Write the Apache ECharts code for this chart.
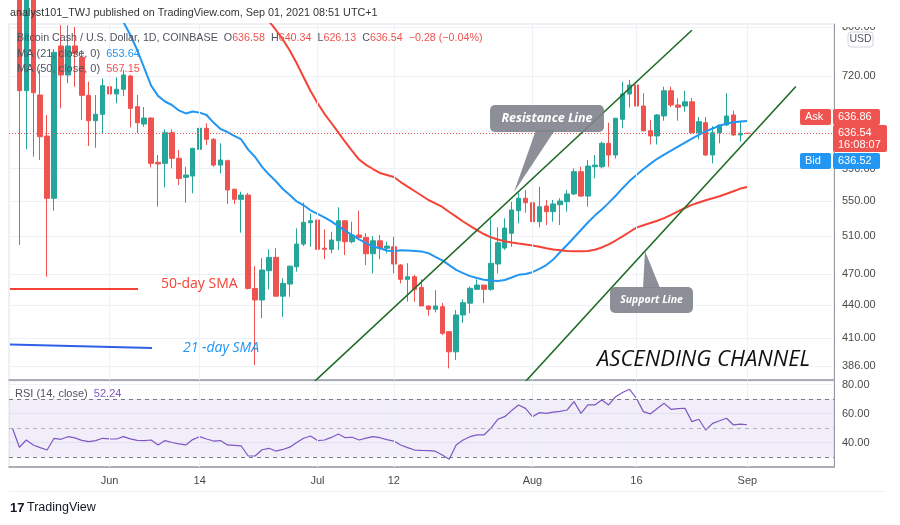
<!DOCTYPE html>
<html><head><meta charset="utf-8">
<script src="https://cdn.jsdelivr.net/npm/echarts@6/dist/echarts.min.js"></script>
<style>html,body{margin:0;padding:0;background:#fff}#c{width:900px;height:525px}</style>
</head><body><div id="c"></div>
<script>
// ---------- categories (daily, May 18 .. Sep 13, 2021) ----------
const firstDay = Date.UTC(2021, 4, 18);
const dayCount = 119;
const dates = [];
for (let i = 0; i < dayCount; i++) dates.push(new Date(firstDay + i * 86400000).toISOString().slice(0, 10));

// time-axis tick labels
const tickDates  = ['2021-06-01','2021-06-14','2021-07-01','2021-07-12','2021-08-01','2021-08-16','2021-09-01'];
const tickTexts  = ['Jun','14','Jul','12','Aug','16','Sep'];

// price axis ticks (log scale) and RSI ticks
const priceTicks = [386, 410, 440, 470, 510, 550, 590, 640, 720, 800];
const rsiTicks = [40, 60, 80];

// ---------- daily candles [open, high, low, close] ----------
const ohlc = [
  null,
  [1010,1040,500.6,697.6],[697.6,880,615.0,850],[850,880,605.3,694.5],[691.2,729.4,601.0,631.9],
  [632.8,662.1,467.6,553.5],[553.5,762.5,539.0,757.6],[768.0,803.4,671.6,721.6],[721.6,803.0,708.8,768.0],
  [768.0,800,703.6,756.0],[749.5,761,655.0,690.7],[690.7,711.3,619.4,654.0],[654.0,691.2,617.1,663.1],
  [663.1,716.4,636.6,705.2],[703.6,708.8,670.3,692.7],[692.7,717.9,679.0,699.8],[699.8,729.4,689.7,721.6],
  [720.0,722.0,644.7,671.6],[674.0,691.2,636.6,651.2],[649.4,673.5,645.6,657.8],[657.8,658.5,591.6,596.7],
  [598.0,607.5,543.6,596.0],[596.7,642.1,566.7,637.4],[637.4,642.0,590.3,603.2],[603.2,614.1,569.5,577.7],
  [579.0,592.3,548.3,581.9],[580.6,617.0,559.5,616.3],[615.0,650.3,601.0,643.4],[643.4,650.3,620.8,628.4],
  [628.4,630.0,592.3,594.5],[594.5,623.0,584.0,601.0],[600.1,601.5,546.8,563.5],[564.4,565.0,546.8,552.3],
  [552.3,561.4,514.0,557.4],[557.4,560.0,455.0,456.0],[456.0,478.4,386.7,444.8],[444.8,486.8,427.8,474.4],
  [473.7,496.0,455.0,487.5],[487.5,497.2,448.0,448.5],[448.5,466.0,429.0,461.0],[460.3,479.0,447.9,478.4],
  [477.8,518.9,472.7,501.6],[501.6,548.3,499.5,525.7],[525.2,535.9,498.7,527.4],[528.3,528.5,485.5,496.0],
  [497.2,517.8,485.5,496.0],[496.0,515.1,491.8,506.0],[505.2,542.9,495.3,527.4],[527.4,528.3,490.0,504.2],
  [504.2,526.4,502.4,511.5],[511.5,539.0,506.0,508.9],[508.9,513.4,479.5,491.3],[491.3,510.4,471.0,505.2],
  [505.2,511.5,485.5,497.2],[497.2,504.2,491.8,499.5],[498.7,509.6,471.0,480.6],[479.5,480.6,461.0,465.0],
  [465.0,481.4,443.2,467.6],[467.6,469.4,443.2,455.1],[457.0,465.0,439.0,439.1],[439.1,439.5,430.0,436.0],
  [436.0,454.4,433.0,439.1],[438.5,442.0,412.5,414.0],[415.5,416.0,384.0,397.9],[397.9,435.3,390.9,430.7],
  [430.7,445.5,423.5,442.2],[441.8,457.8,432.3,456.1],[455.1,465.0,454.4,459.3],[459.3,459.5,441.8,455.1],
  [455.1,529.1,453.7,481.3],[480.6,520.0,471.0,503.1],[497.4,530.2,495.3,519.2],[513.4,549.5,498.7,539.8],
  [539.0,559.6,524.6,553.6],[553.6,563.5,536.7,548.3],[548.3,563.5,513.4,526.4],[526.4,567.5,520.0,543.6],
  [544.4,551.5,522.6,537.8],[537.8,551.5,526.4,546.8],[546.0,553.6,522.6,550.3],[549.5,563.5,537.8,558.7],
  [558.7,590.3,557.4,586.1],[586.1,592.3,555.4,556.2],[556.2,601.0,543.6,593.3],[592.3,607.5,577.7,594.5],
  [592.3,625.2,590.3,623.0],[623.0,651.2,592.3,607.5],[607.5,658.0,603.0,657.4],[656.0,711.3,643.5,692.7],
  [692.7,713.9,672.9,706.2],[706.2,716.0,673.0,675.0],[675.0,693.8,639.0,640.1],[640.1,655.0,621.4,632.9],
  [632.9,663.5,621.4,662.1],[660.7,703.6,654.0,697.6],[697.6,703.6,673.5,676.5],[676.5,686.2,654.0,673.3],
  [675.0,697.6,666.8,681.1],[681.1,686.7,636.6,637.4],[637.4,659.3,628.4,652.6],[651.2,659.3,606.0,607.5],
  [607.5,646.3,596.7,637.4],[637.4,648.5,623.0,648.0],[648.0,693.8,646.6,660.7],[662.1,668.3,633.0,634.3],
  [634.3,652.6,625.2,636.6],[636.58,640.34,626.13,636.54]
];

// ---------- moving averages ----------
const ma21 = [null,null,null,null,null,null,null,null,null,null,null,null,null,null,null,null,
  808.7,786.4,761.4,732.6,705.2,689.9,681.6,676.5,668.6,664.3,667.2,665.5,662.1,651.4,642.6,638.3,
  632.9,628.2,614.6,604.9,592.3,582.5,574.2,564.7,557.4,549.8,545.3,539.4,535.3,531.3,526.8,521.4,
  516.0,511.5,506.7,502.6,499.0,497.1,494.7,493.9,495.1,494.8,494.3,493.8,491.9,488.1,484.4,479.5,
  474.6,471.3,468.2,466.3,464.6,463.8,463.3,464.3,466.8,469.5,470.3,472.2,475.5,479.5,485.2,493.2,
  500.6,508.8,517.0,525.5,533.3,540.4,548.1,556.5,565.7,574.4,581.9,589.3,596.1,602.6,608.1,613.2,
  618.6,623.9,629.3,634.3,639.1,643.2,647.0,650.0,652.0,653.0,653.64];
const ma50 = [null,null,null,null,null,null,null,null,null,null,null,null,null,null,null,null,
  null,null,null,null,null,null,null,null,null,null,null,null,null,null,null,null,null,null,null,null,null,
  810,794.9,778.8,760.6,739.9,718.0,697.2,679.4,663.8,650.8,637.7,624.8,612.8,601.6,594.8,589.5,
  584.5,582.0,579.5,573.2,567.7,562.3,556.9,551.5,547.4,543.3,537.5,532.2,526.6,521.6,517.0,512.6,
  509.0,506.6,504.6,503.3,502.2,501.2,500.1,498.7,497.2,495.8,495.0,494.2,494.0,494.0,494.2,495.6,
  498.0,501.4,505.5,510.0,514.8,519.7,522.4,524.9,527.5,530.4,534.2,538.1,542.1,545.7,548.6,551.2,
  553.5,555.9,558.9,562.0,565.2,567.15];

// ---------- RSI (14) ----------
const rsi = [49.8,36.7,41.7,38.3,36.5,34.8,42.9,42.2,44.0,43.2,41.5,40.6,41.3,42.9,42.5,42.4,
  44.0,42.5,41.5,41.3,41.7,38.3,41.3,40.0,39.0,38.3,42.0,44.0,42.4,41.0,41.3,38.3,38.0,37.6,30.7,30.7,
  35.0,36.0,34.1,35.2,36.8,40.0,42.9,44.5,41.3,41.7,43.5,45.9,43.3,43.6,41.7,43.0,44.0,43.3,42.0,41.0,
  38.3,36.5,34.8,34.5,34.4,34.0,31.4,28.4,38.3,41.7,44.0,45.2,45.2,49.8,56.0,57.8,62.0,65.9,63.5,57.8,
  60.6,60.1,61.0,61.5,62.4,68.2,60.1,65.9,65.9,69.3,65.9,71.6,74.5,76.7,70.5,61.3,59.7,63.5,67.0,62.9,
  63.3,63.6,54.4,56.0,48.6,53.2,55.0,56.7,52.1,52.6,52.24];

// ---------- channel trend lines [date, price] ----------
const resistanceLine = [['2021-06-30', 370.4], ['2021-08-24', 794.5]];
const supportLine = [['2021-07-31', 373.3], ['2021-09-08', 703.9]];
const lastPrice = 636.54;

const FF = 'Liberation Sans';
const tickMap = {};
tickDates.forEach((d, k) => tickMap[d] = tickTexts[k]);
const candleData = ohlc.map(r => r ? [r[0], r[3], r[2], r[1]] : ['-','-','-','-']);
const vLines = tickDates.map(d => ({ xAxis: d }));
const gridLineStyle = { color: '#eef1f6', width: 1, type: 'solid' };

const option = {
  animation: false,
  backgroundColor: '#fff',
  grid: [
    { left: 9, right: 66, top: 24, height: 356, show: true, borderColor: '#e0e3eb', borderWidth: 1 },
    { left: 9, right: 66, top: 381, height: 86, show: true, borderColor: '#e0e3eb', borderWidth: 1 }
  ],
  xAxis: [
    { type: 'category', gridIndex: 0, data: dates, boundaryGap: true,
      axisLabel: { show: false }, axisTick: { show: false },
      axisLine: { show: true, lineStyle: { color: '#9598a1', width: 1.5 } }, splitLine: { show: false } },
    { type: 'category', gridIndex: 1, data: dates, boundaryGap: true,
      axisLabel: { interval: (i, v) => tickMap[v] !== undefined, formatter: v => tickMap[v] || '',
        color: '#4a4a4a', fontSize: 11, fontFamily: FF, margin: 8 },
      axisTick: { show: false }, axisLine: { show: true, lineStyle: { color: '#9598a1', width: 1.5 } },
      splitLine: { show: false } }
  ],
  yAxis: [
    { type: 'log', gridIndex: 0, position: 'right', min: 374.5, max: 805.2,
      axisLine: { show: true, lineStyle: { color: '#9598a1' } },
      axisTick: { show: false, customValues: priceTicks },
      axisLabel: { customValues: priceTicks, formatter: v => Number(v).toFixed(2),
        color: '#4a4a4a', fontSize: 11, fontFamily: FF, margin: 8 },
      splitLine: { show: true, lineStyle: gridLineStyle } },
    { type: 'value', gridIndex: 1, position: 'right', min: 23.1, max: 82.4,
      axisLine: { show: true, lineStyle: { color: '#9598a1' } },
      axisTick: { show: false, customValues: rsiTicks },
      axisLabel: { customValues: rsiTicks, formatter: v => Number(v).toFixed(2),
        color: '#4a4a4a', fontSize: 11, fontFamily: FF, margin: 8 },
      splitLine: { show: true, lineStyle: gridLineStyle } }
  ],
  series: [
    { type: 'line', xAxisIndex: 0, yAxisIndex: 0, data: [], z: 1, silent: true,
      markLine: { silent: true, symbol: 'none', label: { show: false },
        data: vLines.concat([{ yAxis: lastPrice, lineStyle: { color: '#ef5350', type: [1, 2], width: 1 } }]),
        lineStyle: gridLineStyle } },
    { type: 'candlestick', xAxisIndex: 0, yAxisIndex: 0, data: candleData, barWidth: 5, z: 3,
      itemStyle: { color: '#26a69a', color0: '#ef5350', borderColor: '#26a69a', borderColor0: '#ef5350', borderWidth: 1 } },
    { type: 'line', xAxisIndex: 0, yAxisIndex: 0, data: ma21, showSymbol: false, z: 4,
      lineStyle: { color: '#2196f3', width: 2 } },
    { type: 'line', xAxisIndex: 0, yAxisIndex: 0, data: ma50, showSymbol: false, z: 4,
      lineStyle: { color: '#f44336', width: 2 } },
    { type: 'line', xAxisIndex: 0, yAxisIndex: 0, data: resistanceLine, showSymbol: false, z: 5,
      lineStyle: { color: '#1e6b25', width: 1.6 } },
    { type: 'line', xAxisIndex: 0, yAxisIndex: 0, data: supportLine, showSymbol: false, z: 5,
      lineStyle: { color: '#1e6b25', width: 1.6 } },
    { type: 'line', xAxisIndex: 1, yAxisIndex: 1, data: [], z: 1, silent: true,
      markLine: { silent: true, symbol: 'none', label: { show: false }, data: vLines, lineStyle: gridLineStyle } },
    { type: 'line', xAxisIndex: 1, yAxisIndex: 1, data: rsi, showSymbol: false, z: 4,
      lineStyle: { color: '#7e57c2', width: 1.2 },
      markArea: { silent: true, itemStyle: { color: 'rgba(126,87,194,0.1)' }, data: [[{ yAxis: 30 }, { yAxis: 70 }]] },
      markLine: { silent: true, symbol: 'none', label: { show: false },
        lineStyle: { color: '#787b86', type: [4, 4], width: 1 },
        data: [{ yAxis: 30 }, { yAxis: 50, lineStyle: { color: '#b0b3bb', type: [4, 4] } }, { yAxis: 70 }] } }
  ],
  graphic: [
    { type: 'rect', z: 90, shape: { x: 835, y: 0, width: 65, height: 27 }, style: { fill: '#fff' } },
    { type: 'text', z: 100, x: 10, y: 13, style: { text: 'analyst101_TWJ published on TradingView.com, Sep 01, 2021 08:51 UTC+1',
      fontSize: 10.8, fontFamily: FF, fill: '#333', verticalAlign: 'middle' } },
    { type: 'text', z: 100, x: 17, y: 38, style: { verticalAlign: 'middle', fontSize: 11, fontFamily: FF,
      text: '{g|Bitcoin Cash / U.S. Dollar, 1D, COINBASE}  {g|O}{r|636.58}  {g|H}{r|640.34}  {g|L}{r|626.13}  {g|C}{r|636.54}  {r|\u22120.28 (\u22120.04%)}',
      rich: { g: { fill: '#50535e', fontSize: 10.7, fontFamily: FF }, r: { fill: '#ef5350', fontSize: 10.7, fontFamily: FF } } } },
    { type: 'text', z: 100, x: 17, y: 54, style: { verticalAlign: 'middle', fontSize: 11, fontFamily: FF,
      text: '{g|MA (21, close, 0)}  {b|653.64}',
      rich: { g: { fill: '#50535e', fontSize: 11, fontFamily: FF }, b: { fill: '#2196f3', fontSize: 11, fontFamily: FF } } } },
    { type: 'text', z: 100, x: 17, y: 69, style: { verticalAlign: 'middle', fontSize: 11, fontFamily: FF,
      text: '{g|MA (50, close, 0)}  {r|567.15}',
      rich: { g: { fill: '#50535e', fontSize: 11, fontFamily: FF }, r: { fill: '#ef5350', fontSize: 11, fontFamily: FF } } } },
    { type: 'text', z: 100, x: 15, y: 394, style: { verticalAlign: 'middle', fontSize: 11, fontFamily: FF,
      text: '{g|RSI (14, close)}  {p|52.24}',
      rich: { g: { fill: '#50535e', fontSize: 11, fontFamily: FF }, p: { fill: '#7e57c2', fontSize: 11, fontFamily: FF } } } },
    // USD box
    { type: 'rect', z: 100, shape: { x: 848, y: 32, width: 25, height: 15, r: 3 }, style: { fill: '#fff', stroke: '#d1d4dc', lineWidth: 1 } },
    { type: 'text', z: 101, x: 860.5, y: 39.5, style: { text: 'USD', fontSize: 10.5, fontFamily: FF, fill: '#50535e', align: 'center', verticalAlign: 'middle' } },
    // Ask / price / Bid tags
    { type: 'rect', z: 100, shape: { x: 800, y: 109, width: 31, height: 16, r: 2 }, style: { fill: '#ef5350' } },
    { type: 'text', z: 101, x: 805, y: 117, style: { text: 'Ask', fontSize: 11, fontFamily: FF, fill: '#fff', verticalAlign: 'middle' } },
    { type: 'rect', z: 100, shape: { x: 833, y: 109, width: 47, height: 16, r: 2 }, style: { fill: '#ef5350' } },
    { type: 'text', z: 101, x: 838, y: 117, style: { text: '636.86', fontSize: 11, fontFamily: FF, fill: '#fff', verticalAlign: 'middle' } },
    { type: 'rect', z: 100, shape: { x: 833, y: 125, width: 54, height: 27, r: 2 }, style: { fill: '#ef5350' } },
    { type: 'text', z: 101, x: 838, y: 132.5, style: { text: '636.54', fontSize: 11, fontFamily: FF, fill: '#fff', verticalAlign: 'middle' } },
    { type: 'text', z: 101, x: 838, y: 145, style: { text: '16:08:07', fontSize: 11, fontFamily: FF, fill: '#fff', verticalAlign: 'middle' } },
    { type: 'rect', z: 100, shape: { x: 800, y: 153, width: 31, height: 16, r: 2 }, style: { fill: '#2196f3' } },
    { type: 'text', z: 101, x: 805, y: 161, style: { text: 'Bid', fontSize: 11, fontFamily: FF, fill: '#fff', verticalAlign: 'middle' } },
    { type: 'rect', z: 100, shape: { x: 833, y: 153, width: 47, height: 16, r: 2 }, style: { fill: '#2196f3' } },
    { type: 'text', z: 101, x: 838, y: 161, style: { text: '636.52', fontSize: 11, fontFamily: FF, fill: '#fff', verticalAlign: 'middle' } },
    // SMA annotations
    { type: 'line', z: 100, shape: { x1: 10, y1: 289, x2: 138, y2: 289 }, style: { stroke: '#f44336', lineWidth: 2 } },
    { type: 'text', z: 100, x: 161, y: 284, style: { text: '50-day SMA', fontSize: 14, fontFamily: 'Open Sans', fill: '#f44336', verticalAlign: 'middle' } },
    { type: 'line', z: 100, shape: { x1: 10, y1: 344.5, x2: 152, y2: 348 }, style: { stroke: '#2f5fe8', lineWidth: 2 } },
    { type: 'text', z: 100, x: 183, y: 348, style: { text: '21 -day SMA', fontSize: 14, fontStyle: 'italic', fontFamily: 'Open Sans', fill: '#2196f3', verticalAlign: 'middle' } },
    // Resistance callout
    { type: 'polygon', z: 100, shape: { points: [[536, 130], [555, 130], [514, 192]] }, style: { fill: 'rgba(128,131,140,0.9)' } },
    { type: 'rect', z: 100, shape: { x: 490, y: 105, width: 114, height: 27, r: 5 }, style: { fill: 'rgba(128,131,140,0.9)' } },
    { type: 'text', z: 101, x: 547, y: 118.5, style: { text: 'Resistance Line', fontSize: 12.5, fontWeight: 'bold', fontStyle: 'italic', fontFamily: 'Open Sans', fill: '#fff', align: 'center', verticalAlign: 'middle' } },
    // Support callout
    { type: 'polygon', z: 100, shape: { points: [[643, 288], [660, 288], [645, 251]] }, style: { fill: 'rgba(128,131,140,0.9)' } },
    { type: 'rect', z: 100, shape: { x: 610, y: 287, width: 83, height: 26, r: 5 }, style: { fill: 'rgba(128,131,140,0.9)' } },
    { type: 'text', z: 101, x: 651.5, y: 300, style: { text: 'Support Line', fontSize: 10.5, fontWeight: 'bold', fontStyle: 'italic', fontFamily: 'Open Sans', fill: '#fff', align: 'center', verticalAlign: 'middle' } },
    // Title annotation
    { type: 'text', z: 100, x: 597, y: 360, style: { text: 'ASCENDING CHANNEL', fontSize: 22, fontStyle: 'italic', fontFamily: 'Open Sans', fill: '#111', verticalAlign: 'middle' } },
    // footer
    { type: 'line', z: 100, shape: { x1: 9, y1: 491.5, x2: 884, y2: 491.5 }, style: { stroke: '#eef0f3', lineWidth: 1 } },
    { type: 'text', z: 100, x: 10, y: 508, style: { text: '17', fontSize: 13, fontWeight: 900, fontFamily: FF, fill: '#131722', verticalAlign: 'middle' } },
    { type: 'text', z: 100, x: 27, y: 508, style: { text: 'TradingView', fontSize: 12.5, fontFamily: FF, fill: '#131722', verticalAlign: 'middle' } }
  ]
};
const chart = echarts.init(document.getElementById('c'), null, { renderer: 'canvas' });
chart.setOption(option);
</script>
</body></html>
